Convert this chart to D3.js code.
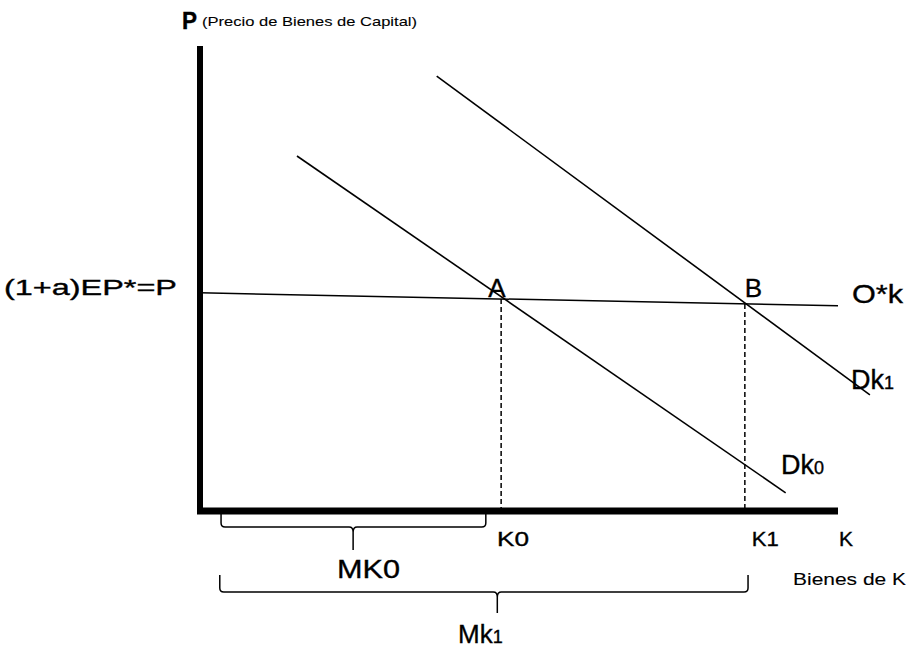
<!DOCTYPE html>
<html>
<head>
<meta charset="utf-8">
<script src="https://cdn.jsdelivr.net/npm/d3@7.9.0/dist/d3.min.js"></script>
<style>
  body { margin: 0; background: #fff; }
  svg { display: block; }
  text { font-family: "Liberation Sans", Arial, sans-serif; fill: #000; stroke: #000; stroke-width: 0.35px; }
  text.small { stroke-width: 0.1px; }
</style>
</head>
<body>
<svg id="chart" width="910" height="652"></svg>
<script>
// data (abstract units: K on x, P on y, both 0..100)
const supplyLine = [{ k: 0, p: 46.8 }, { k: 100, p: 44.0 }];
const demandLines = [
  { name: 'Dk', sub: '0', pts: [{ k: 15.2, p: 76.3 }, { k: 91.8, p: 3.7 }] },
  { name: 'Dk', sub: '1', pts: [{ k: 37.1, p: 93.5 }, { k: 105, p: 24.8 }] },
];
const equilibria = [
  { label: 'A', k: 47.2, tick: 'K0' },
  { label: 'B', k: 85.4, tick: 'K1' },
];
const braces = [
  { name: 'MK0', sub: '', from: 3.3, to: 44.8, mid: 24.0 },
  { name: 'Mk', sub: '1', from: 3.1, to: 85.9, mid: 46.6 },
];

const svg = d3.select('#chart');
const x = d3.scaleLinear().domain([0, 100]).range([200, 838]);
const y = d3.scaleLinear().domain([0, 100]).range([510, 46]);
const supplyAt = d3.scaleLinear().domain(supplyLine.map(d => d.k)).range(supplyLine.map(d => d.p));

const line = d3.line().x(d => x(d.k)).y(d => y(d.p));

// axes (thick black strokes)
svg.append('line')
  .attr('x1', x(0)).attr('x2', x(0))
  .attr('y1', y(100)).attr('y2', y(0) + 3)
  .attr('stroke', '#000').attr('stroke-width', 6);
svg.append('line')
  .attr('x1', x(0) - 3).attr('x2', x(100))
  .attr('y1', y(0) + 1).attr('y2', y(0) + 1)
  .attr('stroke', '#000').attr('stroke-width', 7);

// supply O*k
svg.append('path').datum(supplyLine)
  .attr('d', line).attr('fill', 'none')
  .attr('stroke', '#000').attr('stroke-width', 1.5);

// demand curves
svg.selectAll('path.demand').data(demandLines).join('path')
  .attr('class', 'demand')
  .attr('d', d => line(d.pts))
  .attr('fill', 'none').attr('stroke', '#000').attr('stroke-width', 1.6);

// dashed drop lines
svg.selectAll('line.drop').data(equilibria).join('line')
  .attr('class', 'drop')
  .attr('x1', d => x(d.k)).attr('x2', d => x(d.k))
  .attr('y1', d => y(supplyAt(d.k))).attr('y2', y(0))
  .attr('stroke', '#000').attr('stroke-width', 1.5)
  .attr('stroke-dasharray', '5,3');

// point labels A, B
const ptDx = [-13, 0];
svg.selectAll('text.pt').data(equilibria).join('text')
  .attr('class', 'pt')
  .attr('x', (d, i) => x(d.k) + ptDx[i])
  .attr('y', y(supplyLine[0].p) + 4)
  .attr('font-size', 26)
  .text(d => d.label);

// K ticks labels
const tickDx = [-4, 7];
const tickLen = [32, 27];
svg.selectAll('text.tick').data(equilibria).join('text')
  .attr('class', 'tick')
  .attr('x', (d, i) => x(d.k) + tickDx[i])
  .attr('y', 546)
  .attr('font-size', 20)
  .attr('textLength', (d, i) => tickLen[i])
  .attr('lengthAdjust', 'spacingAndGlyphs')
  .text(d => d.tick);

// demand labels
const demPos = [[781, 474], [851, 389]];
demandLines.forEach((d, i) => {
  const t = svg.append('text')
    .attr('x', demPos[i][0]).attr('y', demPos[i][1])
    .attr('font-size', 27);
  t.append('tspan').text(d.name);
  t.append('tspan').attr('font-size', 18).text(d.sub);
});

// braces
const braceY = [[511, 527, 550], [575, 592, 613]];
braces.forEach((b, i) => {
  const [top, bot, stem] = braceY[i];
  const xl = x(b.from), xr = x(b.to), xm = x(b.mid), r = 4;
  const p = d3.path();
  p.moveTo(xl, top);
  p.lineTo(xl, bot - r);
  p.quadraticCurveTo(xl, bot, xl + r, bot);
  p.lineTo(xm - r, bot);
  p.quadraticCurveTo(xm, bot, xm, bot + 5);
  p.lineTo(xm, stem);
  p.moveTo(xm, bot + 5);
  p.quadraticCurveTo(xm, bot, xm + r, bot);
  p.lineTo(xr - r, bot);
  p.quadraticCurveTo(xr, bot, xr, bot - r);
  p.lineTo(xr, top);
  svg.append('path').attr('d', p.toString())
    .attr('fill', 'none').attr('stroke', '#000').attr('stroke-width', 1.5);
});

const bracePos = [[337, 578, 63], [458, 643, null]];
braces.forEach((b, i) => {
  const t = svg.append('text')
    .attr('x', bracePos[i][0]).attr('y', bracePos[i][1])
    .attr('font-size', 26);
  if (bracePos[i][2]) t.attr('textLength', bracePos[i][2]).attr('lengthAdjust', 'spacingAndGlyphs');
  t.append('tspan').text(b.name);
  if (b.sub) t.append('tspan').attr('font-size', 18).text(b.sub);
});

// other labels
const labels = [
  { text: 'P', x: 182, y: 29, size: 23, len: 15, weight: 'bold', cls: 'lbl' },
  { text: '(Precio de Bienes de Capital)', x: 202, y: 26, size: 13.5, len: 215, weight: 'normal', cls: 'lbl small' },
  { text: '(1+a)EP*=P', x: 4, y: 295, size: 22, len: 173, weight: 'normal', cls: 'lbl' },
  { text: 'O*k', x: 852, y: 303, size: 26, len: 51, weight: 'normal', cls: 'lbl' },
  { text: 'K', x: 839, y: 546, size: 20, len: 14, weight: 'normal', cls: 'lbl' },
  { text: 'Bienes de K', x: 793, y: 585, size: 17, len: 113, weight: 'normal', cls: 'lbl small' },
];
svg.selectAll('text.lbl').data(labels).join('text')
  .attr('class', d => d.cls)
  .attr('x', d => d.x).attr('y', d => d.y)
  .attr('font-size', d => d.size)
  .attr('font-weight', d => d.weight)
  .attr('textLength', d => d.len)
  .attr('lengthAdjust', 'spacingAndGlyphs')
  .text(d => d.text);
</script>
</body>
</html>
